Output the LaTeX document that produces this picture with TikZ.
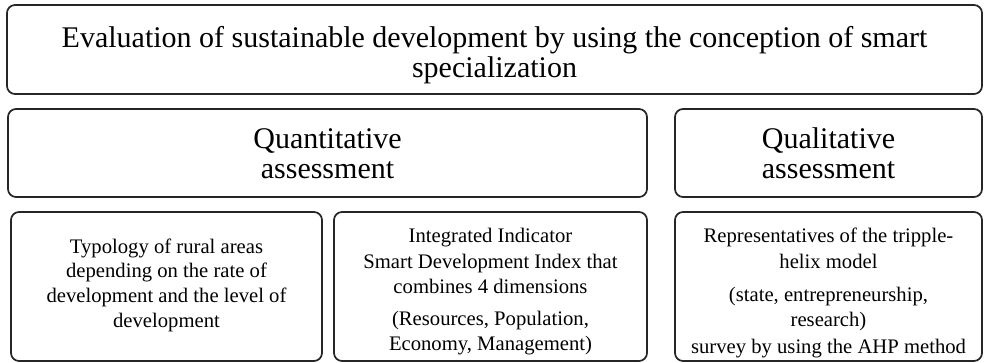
\documentclass[tikz,border=0pt]{standalone}
\usepackage{fontspec}
\setmainfont{Liberation Serif}
\begin{document}
\begin{tikzpicture}[x=0.75pt,y=-0.75pt,
  box/.style={draw=black!85, line width=1.3pt, rounded corners=6pt, inner sep=0pt},
  txt/.style={inner sep=0pt, align=center, text=black},
  bigtext/.style={txt, font=\fontsize{22.5}{22.5}\selectfont},
  smalltext/.style={txt, font=\fontsize{15.5}{18.4}\selectfont}]
\useasboundingbox (0,0) rectangle (984,363);
% boxes
\node[box, minimum width=731.25pt, minimum height=66.75pt] (top) at (494.5,49.5) {};
\node[box, minimum width=479.25pt, minimum height=66pt] (quant) at (327.5,153) {};
\node[box, minimum width=230.25pt, minimum height=66pt] (qual) at (828.5,153) {};
\node[box, minimum width=233.25pt, minimum height=111.75pt] (typo) at (166.5,286.5) {};
\node[box, minimum width=234.75pt, minimum height=111.75pt] (index) at (490.5,286.5) {};
\node[box, minimum width=230.25pt, minimum height=111.75pt] (helix) at (828.5,286.5) {};
% texts
\node[bigtext] (toptext) at ([yshift=-4.2pt]top.center)
  {Evaluation of sustainable development by using the conception of smart\\specialization};
\node[bigtext] (quanttext) at ([yshift=-0.5pt]quant.center) {Quantitative\\assessment};
\node[bigtext] (qualtext) at ([yshift=-0.5pt]qual.center) {Qualitative\\assessment};
\node[smalltext] (typotext) at ([yshift=1pt]typo.center)
  {Typology of rural areas\\depending on the rate of\\development and the level of\\development};
\node[smalltext] (indextext) at ([yshift=-3.8pt]index.center)
  {Integrated Indicator\\[1pt]Smart Development Index that\\combines 4 dimensions\\[6pt](Resources, Population,\\Economy, Management)};
\node[smalltext] (helixtext) at ([yshift=-5pt]helix.center)
  {Representatives of the tripple-\\[1pt]helix model\\[6.5pt](state, entrepreneurship,\\research)\\[2pt]survey by using the AHP method};
\end{tikzpicture}
\end{document}
